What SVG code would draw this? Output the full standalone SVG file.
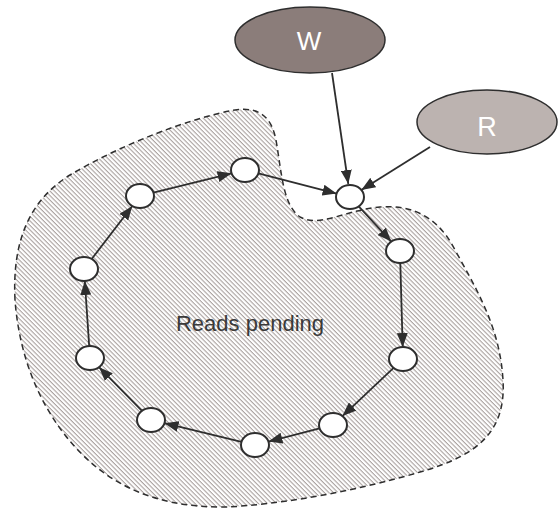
<svg xmlns="http://www.w3.org/2000/svg" width="559" height="510" viewBox="0 0 559 510">
<defs>
<pattern id="hatch" width="3.2" height="3.2" patternUnits="userSpaceOnUse" patternTransform="rotate(45)">
<rect x="0" y="0" width="3.2" height="1.1" fill="#aaa2a0"/>
</pattern>
<marker id="ah" markerUnits="userSpaceOnUse" markerWidth="14" markerHeight="11" refX="14" refY="5.5" orient="auto">
<path d="M0,0 L14,5.5 L0,11 z" fill="#2e2e2e"/>
</marker>
<style>
.node ellipse{fill:#fff;stroke:#2e2e2e;stroke-width:2}
.edges line{stroke:#2e2e2e;stroke-width:1.8;marker-end:url(#ah)}
.lbl{font-family:"Liberation Sans",Arial,sans-serif;fill:#fff;text-anchor:middle}
</style>
</defs>
<rect width="559" height="510" fill="#fff"/>
<g id="region">
<path d="M15,300 C12,240 30,200 70,175 C120,145 190,118 235,110 C262,106 272,120 276,140 C282,175 283,205 300,217 C320,228 345,210 380,207 C415,204 440,220 455,250 C480,295 500,330 503,380 C506,430 480,455 420,472 C360,490 280,505 225,507 C150,508 100,480 65,435 C30,390 18,340 15,300 Z" fill="url(#hatch)" stroke="#2e2e2e" stroke-width="1.5" stroke-dasharray="6 4"/>
<text x="250" y="331" font-family="'Liberation Sans',Arial,sans-serif" font-size="22" fill="#3a3a3a" text-anchor="middle">Reads pending</text>
</g>
<g id="W">
<ellipse cx="310" cy="40" rx="75" ry="33" fill="#8b7d7a" stroke="#2e2e2e" stroke-width="1.5"/>
<text class="lbl" x="309" y="50" font-size="26">W</text>
</g>
<g id="R">
<ellipse cx="487" cy="122" rx="70" ry="32" fill="#bcb3b0" stroke="#2e2e2e" stroke-width="1.5"/>
<text class="lbl" x="487" y="136" font-size="27">R</text>
</g>
<g class="edges" id="connectors">
<line x1="332" y1="73" x2="348.3" y2="184"/>
<line x1="430" y1="147" x2="361.3" y2="189.9"/>
<line x1="258.4" y1="173.4" x2="336.6" y2="193.6"/>
<line x1="358.7" y1="206.4" x2="391.3" y2="241.6"/>
<line x1="400.3" y1="263" x2="402.7" y2="347"/>
<line x1="393.6" y1="367.9" x2="342.4" y2="416.1"/>
<line x1="319.6" y1="428.4" x2="268.4" y2="441.6"/>
<line x1="241.5" y1="441.8" x2="164.5" y2="423.2"/>
<line x1="142" y1="410.8" x2="99" y2="367.2"/>
<line x1="89.2" y1="346" x2="84.8" y2="281"/>
<line x1="91.7" y1="259" x2="132.3" y2="206"/>
<line x1="153.4" y1="192.7" x2="231.6" y2="173.3"/>
</g>
<g class="node" id="n1"><ellipse cx="350" cy="197" rx="14" ry="12"/></g>
<g class="node" id="n2"><ellipse cx="400" cy="251" rx="14" ry="12"/></g>
<g class="node" id="n3"><ellipse cx="403" cy="359" rx="14" ry="12"/></g>
<g class="node" id="n4"><ellipse cx="333" cy="425" rx="14" ry="12"/></g>
<g class="node" id="n5"><ellipse cx="255" cy="445" rx="14" ry="12"/></g>
<g class="node" id="n6"><ellipse cx="151" cy="420" rx="14" ry="12"/></g>
<g class="node" id="n7"><ellipse cx="90" cy="358" rx="14" ry="12"/></g>
<g class="node" id="n8"><ellipse cx="84" cy="269" rx="14" ry="12"/></g>
<g class="node" id="n9"><ellipse cx="140" cy="196" rx="14" ry="12"/></g>
<g class="node" id="n10"><ellipse cx="245" cy="170" rx="14" ry="12"/></g>
</svg>
